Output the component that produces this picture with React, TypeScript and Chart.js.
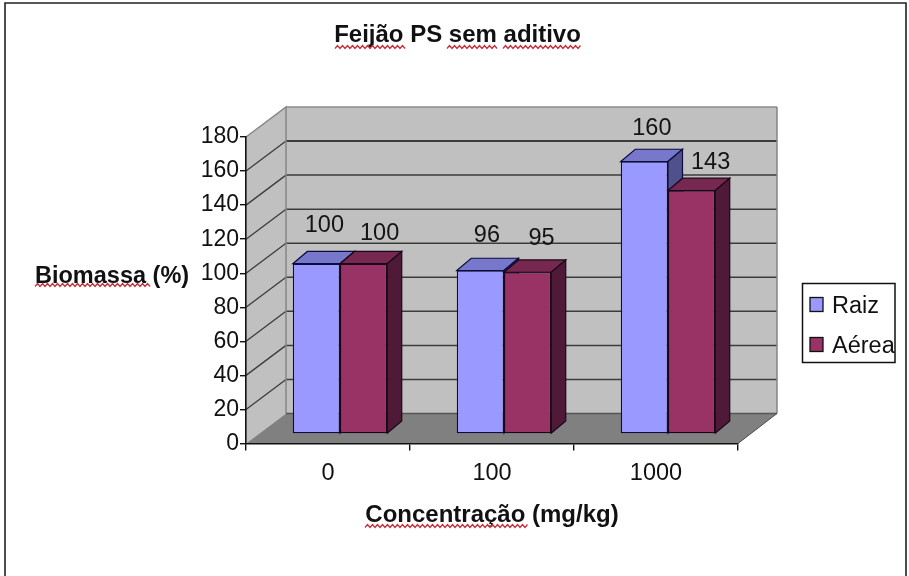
import React, { useEffect, useRef } from "react";
import { Chart, registerables } from "chart.js";

Chart.register(...registerables);

const categories = ["0", "100", "1000"];
const raiz = [100, 96, 160];
const aerea = [100, 95, 143];
const seriesNames = ["Raiz", "Aérea"];
const titleText = "Feijão PS sem aditivo";
const yTitleText = "Biomassa (%)";
const xTitleText = "Concentração (mg/kg)";

const FONT = '"Liberation Sans", Arial, sans-serif';
const WALL_DX = 40;
const WALL_DY = -30;
const BAR_SHIFT_X = 12;
const BAR_SHIFT_Y = -9.5;
const BAR_DX = 14.5;
const BAR_DY = -12.3;

const faces = [
  { front: "#9999ff", top: "#7777cc", side: "#50508a", edge: "#0c0c40" },
  { front: "#993366", top: "#772850", side: "#4f1a38", edge: "#1a0618" },
];
// label nudges relative to the bar's top centre
const labelNudge = [
  [[8, -38], [6.5, -35], [7.5, -33]],
  [[16, -30], [14, -34], [19, -28]],
];

function poly(ctx: CanvasRenderingContext2D, pts: number[][], fill: string, stroke?: string, lw = 1) {
  ctx.beginPath();
  pts.forEach((p, i) => (i ? ctx.lineTo(p[0], p[1]) : ctx.moveTo(p[0], p[1])));
  ctx.closePath();
  ctx.fillStyle = fill;
  ctx.fill();
  if (stroke) {
    ctx.strokeStyle = stroke;
    ctx.lineWidth = lw;
    ctx.stroke();
  }
}

function squiggle(ctx: CanvasRenderingContext2D, x0: number, x1: number, y: number) {
  ctx.beginPath();
  let up = false;
  for (let x = x0; x <= x1; x += 2.5) {
    const yy = y + (up ? -1.5 : 1.5);
    if (x === x0) ctx.moveTo(x, yy);
    else ctx.lineTo(x, yy);
    up = !up;
  }
  ctx.strokeStyle = "#c8303c";
  ctx.lineWidth = 1.3;
  ctx.stroke();
}

const scene = {
  id: "scene",
  beforeDraw(chart: any) {
    const { ctx, chartArea: a, scales } = chart;
    const y = scales.y;
    ctx.save();
    ctx.fillStyle = "#ffffff";
    ctx.fillRect(0, 0, chart.width, chart.height);
    // picture frame
    ctx.strokeStyle = "#222";
    ctx.lineWidth = 1.6;
    ctx.beginPath();
    ctx.moveTo(5, 576);
    ctx.lineTo(5, 3);
    ctx.lineTo(906, 3);
    ctx.lineTo(906, 576);
    ctx.stroke();

    const l = a.left, r = a.right, t = a.top, b = a.bottom;
    const bl = l + WALL_DX, br = r + WALL_DX - 1, bt = t + WALL_DY, bb = b + WALL_DY;
    poly(ctx, [[bl, bt], [br, bt], [br, bb], [bl, bb]], "#c0c0c0");
    poly(ctx, [[l, t], [bl, bt], [bl, bb], [l, b]], "#c0c0c0");
    poly(ctx, [[l, b], [bl, bb], [br, bb], [r, b]], "#808080");

    y.ticks.forEach((tk: any) => {
      const py = y.getPixelForValue(tk.value);
      const top = tk.value === 180;
      const floor = tk.value === 0;
      ctx.strokeStyle = top ? "#8c8c8c" : "#3c3c3c";
      ctx.lineWidth = tk.value === 160 ? 2 : 1.5;
      if (floor) return;
      ctx.beginPath();
      ctx.moveTo(bl, py + WALL_DY);
      ctx.lineTo(br, py + WALL_DY);
      ctx.stroke();
      if (!top) {
        ctx.lineWidth = 1.3;
        ctx.beginPath();
        ctx.moveTo(l, py);
        ctx.lineTo(bl, py + WALL_DY);
        ctx.stroke();
      }
    });
    // wall edges
    ctx.strokeStyle = "#858585";
    ctx.lineWidth = 1.5;
    ctx.beginPath();
    ctx.moveTo(l, t);
    ctx.lineTo(bl, bt);
    ctx.lineTo(bl, bb);
    ctx.moveTo(br, bt);
    ctx.lineTo(br, bb);
    ctx.stroke();
    ctx.strokeStyle = "#555";
    ctx.beginPath();
    ctx.moveTo(bl, bb);
    ctx.lineTo(br, bb);
    ctx.stroke();
    ctx.strokeStyle = "#333";
    ctx.beginPath();
    ctx.moveTo(r, b);
    ctx.lineTo(br, bb);
    ctx.lineWidth = 0.8;
    ctx.stroke();
    ctx.restore();
  },
  beforeDatasetDraw() {
    return false;
  },
  afterDatasetsDraw(chart: any) {
    const { ctx } = chart;
    [0, 1].forEach((ds) => {
      const meta = chart.getDatasetMeta(ds);
      const c = faces[ds];
      ctx.save();
      ctx.translate(BAR_SHIFT_X, BAR_SHIFT_Y);
      meta.data.forEach((el: any) => {
        const { x, y, base, width } = el.getProps(["x", "y", "base", "width"]);
        const x0 = x - width / 2, x1 = x + width / 2;
        poly(ctx, [[x0, y], [x0 + BAR_DX, y + BAR_DY], [x1 + BAR_DX, y + BAR_DY], [x1, y]], c.top, c.edge, 1.2);
        poly(ctx, [[x1, y], [x1 + BAR_DX, y + BAR_DY], [x1 + BAR_DX, base + BAR_DY], [x1, base]], c.side, c.edge, 1.2);
        el.draw(ctx);
      });
      ctx.restore();
    });

    ctx.save();
    ctx.fillStyle = "#141414";
    ctx.font = `23.5px ${FONT}`;
    ctx.textAlign = "center";
    ctx.textBaseline = "middle";
    [0, 1].forEach((ds) => {
      const meta = chart.getDatasetMeta(ds);
      meta.data.forEach((el: any, i: number) => {
        const { x, y } = el.getProps(["x", "y"]);
        const n = labelNudge[ds][i];
        ctx.fillText(String(chart.data.datasets[ds].data[i]), x + BAR_SHIFT_X + n[0], y + BAR_SHIFT_Y + n[1]);
      });
    });
    ctx.restore();
  },
  afterDraw(chart: any) {
    const { ctx } = chart;
    ctx.save();
    ctx.textBaseline = "middle";
    ctx.textAlign = "center";
    ctx.fillStyle = "#111";
    ctx.font = `bold 24px ${FONT}`;
    ctx.fillText(titleText, 457.5, 35);
    ctx.textAlign = "left";
    ctx.font = `bold 23.5px ${FONT}`;
    ctx.fillText(yTitleText, 35, 277);
    squiggle(ctx, 335, 405, 47);
    squiggle(ctx, 447, 497, 47);
    squiggle(ctx, 503, 581, 47);
    squiggle(ctx, 35, 150, 285);
    squiggle(ctx, 365, 528, 526);

    // legend
    ctx.fillStyle = "#fff";
    ctx.strokeStyle = "#111";
    ctx.lineWidth = 1.5;
    ctx.fillRect(802.5, 283.5, 92.5, 79);
    ctx.strokeRect(802.5, 283.5, 92.5, 79);
    [0, 1].forEach((i) => {
      const sy = i === 0 ? 297.5 : 337.5;
      ctx.fillStyle = faces[i].front;
      ctx.fillRect(810, sy, 13, 14);
      ctx.strokeStyle = "#111";
      ctx.lineWidth = 1.3;
      ctx.strokeRect(810, sy, 13, 14);
      ctx.fillStyle = "#111";
      ctx.font = `23.5px ${FONT}`;
      ctx.fillText(chart.data.datasets[i].label, 832, sy + 9);
    });
    ctx.restore();
  },
};

export default function App() {
  const ref = useRef<HTMLCanvasElement>(null);
  useEffect(() => {
    const chart = new Chart(ref.current!, {
      type: "bar",
      data: {
        labels: categories,
        datasets: [
          { label: seriesNames[0], data: raiz, backgroundColor: faces[0].front, borderColor: faces[0].edge, borderWidth: 1.3, borderSkipped: false },
          { label: seriesNames[1], data: aerea, backgroundColor: faces[1].front, borderColor: faces[1].edge, borderWidth: 1.3, borderSkipped: false },
        ],
      },
      options: {
        responsive: false,
        animation: false,
        layout: { padding: { left: 0, right: 171, top: 137, bottom: 0 } },
        datasets: { bar: { categoryPercentage: 0.576, barPercentage: 1 } },
        plugins: { legend: { display: false }, title: { display: false }, tooltip: { enabled: false } },
        scales: {
          x: {
            afterFit: (s: any) => { s.height = 132.5; },
            border: { display: true, color: "#111", width: 1.6 },
            grid: { display: true, drawOnChartArea: false, drawTicks: true, tickLength: 7, color: "#111", lineWidth: 1.4 },
            ticks: { color: "#111", font: { family: FONT, size: 23.5 }, padding: 9, maxRotation: 0 },
            title: { display: true, text: xTitleText, color: "#111", font: { family: FONT, size: 24, weight: "bold" }, padding: { top: 0, bottom: 46 } },
          },
          y: {
            min: 0,
            max: 180,
            afterFit: (s: any) => { s.width = 246; },
            border: { display: true, color: "#111", width: 1.6 },
            grid: { display: true, drawOnChartArea: false, drawTicks: true, tickLength: 6, color: "#111", lineWidth: 1.4 },
            ticks: { stepSize: 20, color: "#111", font: { family: FONT, size: 23 }, padding: 1 },
          },
        },
      },
      plugins: [scene],
    } as any);
    return () => chart.destroy();
  }, []);
  return (
    <canvas
      ref={ref}
      width={909}
      height={576}
      style={{ position: "fixed", left: 0, top: 0, display: "block", filter: "blur(0.55px)" }}
    />
  );
}
